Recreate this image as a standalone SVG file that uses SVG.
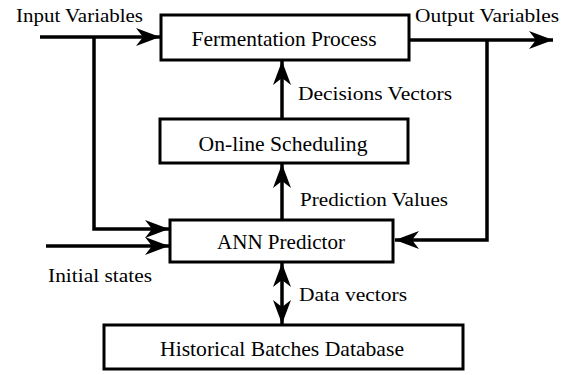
<svg xmlns="http://www.w3.org/2000/svg" width="569" height="375" viewBox="0 0 569 375">
<style>
.box{fill:#fff;stroke:#000;stroke-width:3}
.btxt{font-size:21px;fill:#000;text-anchor:middle}
.lbl{font-size:19px;fill:#000}
.con{fill:none;stroke:#000;stroke-width:3.5}
.arr{marker-end:url(#ah)}
</style>
<defs>
<marker id="ah" markerUnits="userSpaceOnUse" viewBox="-25 -10 27 20" refX="0" refY="0" markerWidth="27" markerHeight="20" orient="auto-start-reverse">
<path d="M0,0 L-24,-9 L-17,0 L-24,9 Z" fill="#000"/>
</marker>
</defs>
<rect width="569" height="375" fill="#fff"/>
<g id="connectors">
<path class="con arr" d="M40,37 H160"/>
<path class="con arr" d="M94,37 V229 H169"/>
<path class="con arr" d="M46,246 H169"/>
<path class="con arr" d="M409,40 H553"/>
<path class="con arr" d="M487,40 V240 H395"/>
<path class="con arr" d="M282,119 V61"/>
<path class="con arr" d="M282,220 V164"/>
<path class="con" d="M282,263 V324" marker-start="url(#ah)" marker-end="url(#ah)"/>
</g>
<g font-family="Liberation Serif, Times New Roman, serif">
<g id="fermentation">
<rect class="box" x="161" y="15" width="248" height="45"/>
<text class="btxt" x="284" y="46" textLength="185" lengthAdjust="spacingAndGlyphs">Fermentation Process</text>
</g>
<g id="scheduling">
<rect class="box" x="160" y="119" width="248" height="44"/>
<text class="btxt" x="283" y="151" textLength="169" lengthAdjust="spacingAndGlyphs">On-line Scheduling</text>
</g>
<g id="ann">
<rect class="box" x="170" y="220" width="223" height="42"/>
<text class="btxt" x="281" y="249" textLength="128" lengthAdjust="spacingAndGlyphs">ANN Predictor</text>
</g>
<g id="database">
<rect class="box" x="104" y="325" width="359" height="44"/>
<text class="btxt" x="282" y="356" textLength="244" lengthAdjust="spacingAndGlyphs">Historical Batches Database</text>
</g>
<g id="labels">
<text class="lbl" x="16" y="22" textLength="127" lengthAdjust="spacingAndGlyphs">Input Variables</text>
<text class="lbl" x="415" y="22" textLength="144" lengthAdjust="spacingAndGlyphs">Output Variables</text>
<text class="lbl" x="298" y="100" textLength="154" lengthAdjust="spacingAndGlyphs">Decisions Vectors</text>
<text class="lbl" x="300" y="206" textLength="148" lengthAdjust="spacingAndGlyphs">Prediction Values</text>
<text class="lbl" x="48" y="282" textLength="104" lengthAdjust="spacingAndGlyphs">Initial states</text>
<text class="lbl" x="299" y="301" textLength="108" lengthAdjust="spacingAndGlyphs">Data vectors</text>
</g>
</g>
</svg>
